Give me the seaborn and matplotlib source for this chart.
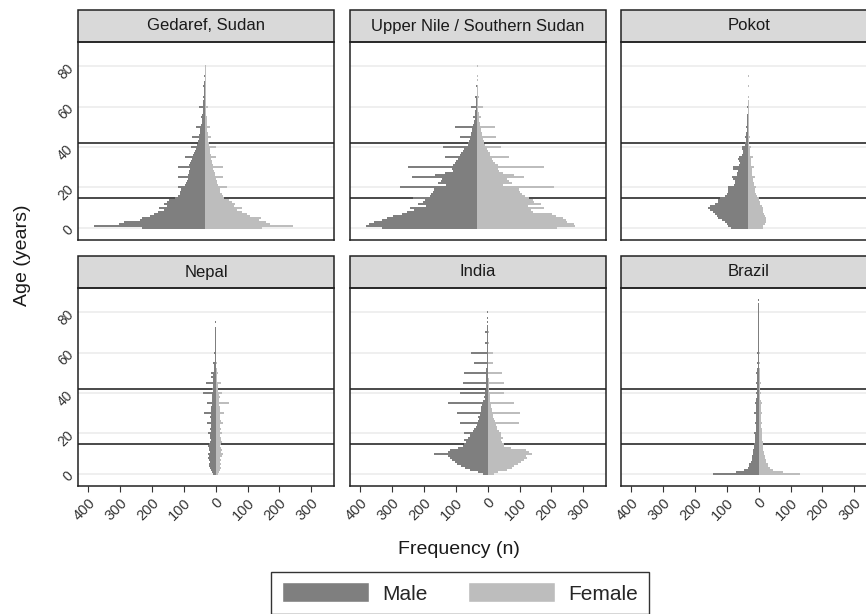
import matplotlib
matplotlib.use('Agg')
import matplotlib.pyplot as plt
from matplotlib.patches import Patch, Rectangle
import pandas as pd
import seaborn as sns

# counts per single year of age, starting at age 0
gedaref_male = [200, 350, 270, 255, 205, 200, 175, 160, 150, 130,
                145, 120, 130, 120, 115, 96, 85, 80, 78, 75,
                85, 62, 60, 58, 55, 85, 55, 52, 50, 48,
                85, 50, 48, 45, 42, 65, 38, 35, 33, 30,
                45, 25, 23, 22, 20, 42, 18, 17, 16, 15,
                30, 12, 11, 10, 10, 14, 9, 8, 8, 7,
                18, 7, 6, 6, 5, 8, 5, 4, 4, 3,
                6, 3, 3, 2, 2, 4, 2, 2, 1, 1, 2]
gedaref_female = [180, 275, 205, 190, 170, 175, 140, 130, 115, 100,
                  115, 90, 95, 85, 75, 60, 55, 52, 48, 45,
                  70, 40, 38, 36, 34, 55, 32, 30, 28, 26,
                  55, 24, 22, 20, 19, 35, 17, 16, 15, 14,
                  35, 12, 11, 10, 9, 17, 8, 8, 7, 7,
                  15, 6, 5, 5, 5, 7, 4, 4, 4, 3,
                  8, 3, 3, 3, 2, 4, 2, 2, 2, 2,
                  4, 1, 1, 1, 1, 2, 1, 1, 1, 1, 1]

nile_male = [300, 350, 340, 325, 300, 285, 265, 235, 222, 200,
             211, 160, 185, 170, 165, 203, 150, 144, 140, 135,
             243, 97, 123, 115, 110, 206, 133, 100, 76, 80,
             217, 76, 70, 68, 60, 102, 55, 50, 45, 40,
             109, 30, 28, 26, 24, 55, 20, 18, 16, 15,
             71, 12, 10, 9, 8, 14, 7, 6, 6, 5,
             19, 4, 4, 3, 3, 6, 2, 2, 2, 1,
             3, 0, 0, 1, 0, 2, 0, 0, 0, 0, 2]
nile_female = [250, 309, 304, 283, 278, 270, 247, 235, 175, 170,
               210, 160, 200, 180, 174, 164, 150, 140, 135, 130,
               242, 80, 110, 100, 95, 148, 117, 80, 70, 65,
               210, 65, 55, 50, 45, 101, 40, 39, 35, 32,
               75, 25, 22, 20, 18, 59, 15, 14, 12, 11,
               55, 9, 8, 7, 6, 12, 5, 5, 4, 4,
               18, 3, 3, 2, 2, 5, 1, 1, 1, 1,
               2, 0, 0, 1, 0, 1, 0, 0, 0, 0, 1]

pokot_male = [55, 62, 68, 73, 83, 94, 99, 104, 111, 120,
              125, 119, 104, 95, 94, 89, 73, 68, 62, 62,
              65, 45, 42, 40, 47, 50, 36, 34, 32, 47,
              48, 28, 26, 30, 33, 30, 18, 16, 15, 21,
              20, 10, 9, 8, 7, 10, 6, 6, 5, 5,
              8, 4, 4, 3, 3, 5, 3, 2, 2, 2,
              4, 2, 2, 2, 1, 2, 1, 1, 1, 1,
              2, 0, 0, 0, 0, 2]
pokot_female = [45, 47, 52, 55, 57, 55, 52, 50, 48, 47,
                47, 44, 38, 36, 34, 33, 28, 25, 21, 22,
                26, 18, 17, 16, 15, 22, 13, 12, 11, 12,
                18, 10, 9, 9, 8, 14, 7, 6, 6, 5,
                10, 4, 4, 3, 3, 5, 3, 2, 2, 2,
                4, 2, 1, 1, 1, 2, 1, 1, 1, 1,
                2, 1, 1, 1, 0, 1, 0, 0, 0, 0,
                1, 0, 0, 0, 0, 1]

nepal_male = [8, 12, 15, 18, 22, 20, 18, 22, 25, 20,
              25, 18, 22, 20, 24, 22, 18, 16, 18, 17,
              24, 15, 17, 16, 15, 26, 16, 15, 17, 14,
              36, 14, 16, 14, 13, 28, 12, 12, 13, 11,
              40, 10, 12, 10, 9, 30, 8, 8, 16, 7,
              16, 5, 5, 4, 4, 7, 3, 3, 3, 2,
              4, 2, 2, 2, 2, 3, 1, 1, 1, 1,
              2, 1, 1, 0, 0, 2]
nepal_female = [8, 10, 14, 16, 15, 18, 15, 16, 14, 20,
                22, 18, 20, 17, 14, 18, 20, 18, 16, 15,
                20, 14, 16, 15, 14, 24, 16, 14, 15, 12,
                26, 12, 14, 12, 11, 41, 10, 10, 12, 9,
                19, 8, 8, 7, 6, 17, 5, 5, 4, 4,
                8, 3, 3, 2, 2, 4, 2, 1, 1, 1,
                2, 1, 1, 1, 1, 1, 0, 0, 0, 0,
                1, 0, 0, 0, 0, 1]

india_male = [15, 31, 57, 70, 83, 95, 104, 112, 120, 125,
              168, 126, 120, 94, 78, 73, 68, 73, 62, 55,
              73, 47, 42, 36, 34, 86, 30, 28, 31, 25,
              97, 22, 21, 20, 18, 126, 14, 10, 12, 9,
              86, 8, 5, 6, 5, 79, 5, 5, 4, 4,
              74, 4, 5, 3, 3, 42, 3, 2, 2, 2,
              53, 2, 2, 2, 1, 10, 1, 1, 1, 1,
              8, 1, 1, 1, 0, 3, 0, 1, 0, 0, 2]
india_female = [20, 31, 62, 75, 83, 95, 104, 115, 125, 122,
                140, 130, 122, 73, 52, 52, 45, 42, 48, 42,
                42, 35, 30, 28, 26, 99, 22, 20, 18, 16,
                100, 14, 12, 11, 10, 82, 8, 7, 6, 6,
                52, 5, 4, 4, 3, 50, 3, 3, 2, 2,
                44, 2, 2, 2, 1, 16, 1, 1, 1, 1,
                16, 1, 1, 1, 0, 3, 0, 0, 0, 0,
                3, 0, 0, 0, 0, 1, 0, 0, 0, 0, 1]

brazil_male = [144, 71, 45, 35, 30, 29, 25, 22, 20, 20,
               19, 18, 17, 15, 15, 14, 13, 12, 12, 11,
               14, 10, 10, 9, 9, 12, 9, 9, 8, 8,
               15, 8, 8, 7, 7, 12, 7, 7, 6, 6,
               10, 6, 6, 5, 5, 8, 5, 5, 4, 4,
               7, 4, 4, 3, 3, 5, 3, 3, 3, 2,
               4, 2, 2, 2, 2, 3, 2, 2, 1, 1,
               2, 1, 1, 1, 1, 2, 1, 1, 1, 1,
               1, 1, 1, 1, 1, 0, 1]
brazil_female = [129, 75, 44, 35, 30, 28, 24, 22, 20, 19,
                 18, 17, 15, 14, 13, 12, 12, 11, 10, 10,
                 11, 9, 9, 8, 8, 10, 8, 8, 7, 7,
                 10, 7, 7, 6, 6, 9, 6, 5, 5, 5,
                 7, 5, 4, 4, 4, 6, 4, 3, 3, 3,
                 5, 3, 3, 2, 2, 3, 2, 2, 2, 2,
                 3, 2, 1, 1, 1, 2, 1, 1, 1, 1,
                 1, 1, 1, 1, 0, 1, 0, 1, 0, 0,
                 1, 0, 0, 0, 0, 0, 0]

panel_titles = ['Gedaref, Sudan', 'Upper Nile / Southern Sudan', 'Pokot',
                'Nepal', 'India', 'Brazil']
panel_male = [gedaref_male, nile_male, pokot_male, nepal_male, india_male, brazil_male]
panel_female = [gedaref_female, nile_female, pokot_female, nepal_female, india_female, brazil_female]

age_gridlines = [0, 20, 40, 60, 80]
age_cutoffs = [15, 42]
x_ticks = [-400, -300, -200, -100, 0, 100, 200, 300]
x_ticklabels = ['400', '300', '200', '100', '0', '100', '200', '300']

sns.set_style('white')
plt.rcParams['font.family'] = ['Liberation Sans', 'DejaVu Sans']

palette = {'Male': '#7f7f7f', 'Female': '#bdbdbd'}

W, H = 866, 614
fig = plt.figure(figsize=(W / 100, H / 100), dpi=100)

col_left = [78, 350, 621]
row_top = [42, 288]
panel_w, panel_h = 256, 198
strip_h = 32

for i, title in enumerate(panel_titles):
    r, c = divmod(i, 3)
    ax = fig.add_axes([col_left[c] / W, (H - row_top[r] - panel_h) / H,
                       panel_w / W, panel_h / H])

    male = panel_male[i]
    female = panel_female[i]
    df = pd.DataFrame({
        'age': list(range(len(male))) + list(range(len(female))),
        'n': [-v for v in male] + list(female),
        'sex': ['Male'] * len(male) + ['Female'] * len(female),
    })

    for g in age_gridlines:
        ax.axhline(g, color='#ececec', lw=1.2, zorder=0)
    for g in age_cutoffs:
        ax.axhline(g, color='#3a3a3a', lw=1.3, zorder=1)

    sns.barplot(data=df, x='n', y='age', hue='sex', hue_order=['Male', 'Female'],
                orient='h', native_scale=True, dodge=False, width=1.0,
                palette=palette, saturation=1, errorbar=None, linewidth=0,
                antialiased=False, legend=False, ax=ax, zorder=2)

    ax.set_ylim(-6, 92)
    if r == 0:
        ax.set_xlim(-400, 405)
    else:
        ax.set_xlim(-433, 372)
    ax.set_xlabel('')
    ax.set_ylabel('')

    ax.set_yticks(age_gridlines)
    ax.set_xticks(x_ticks)
    if c == 0:
        ax.set_yticklabels([str(a) for a in age_gridlines], rotation=45,
                           ha='right', va='center', rotation_mode='anchor',
                           fontsize=10, color='#333333')
        ax.tick_params(axis='y', length=3, width=0.8, color='#333333', pad=2)
    else:
        ax.tick_params(axis='y', left=False, labelleft=False)
    if r == 1:
        ax.set_xticklabels(x_ticklabels, rotation=45, ha='right', va='top',
                           rotation_mode='anchor', fontsize=10.5, color='#333333')
        ax.tick_params(axis='x', bottom=True, length=4, width=0.8, color='#333333', pad=3)
    else:
        ax.tick_params(axis='x', bottom=False, labelbottom=False)

    for sp in ax.spines.values():
        sp.set_color('#222222')
        sp.set_linewidth(1.1)

    # facet strip
    sh = strip_h / panel_h
    ax.add_patch(Rectangle((0, 1), 1, sh, transform=ax.transAxes, clip_on=False,
                           facecolor='#d9d9d9', edgecolor='#222222', lw=1.1))
    ax.text(0.5, 1 + sh / 2, title, transform=ax.transAxes, ha='center',
            va='center', fontsize=12, color='#1a1a1a')

fig.text(0.026, (H - 255) / H, 'Age (years)', rotation=90, ha='center',
         va='center', fontsize=14, color='#1a1a1a')
fig.text(459 / W, (H - 550) / H, 'Frequency (n)', ha='center', va='center',
         fontsize=14, color='#1a1a1a')

handles = [Patch(facecolor=palette['Male'], label='Male'),
           Patch(facecolor=palette['Female'], label='Female')]
leg = fig.legend(handles=handles, loc='upper center', ncol=2,
                 bbox_to_anchor=(460 / W, (H - 572) / H), fontsize=15,
                 handlelength=4.2, handleheight=1.1, handletextpad=0.65,
                 columnspacing=1.9, borderpad=0.5, borderaxespad=0,
                 frameon=True, fancybox=False, framealpha=1)
leg.get_frame().set_edgecolor('#333333')
leg.get_frame().set_linewidth(1.0)

fig.savefig('out.png', dpi=100)
